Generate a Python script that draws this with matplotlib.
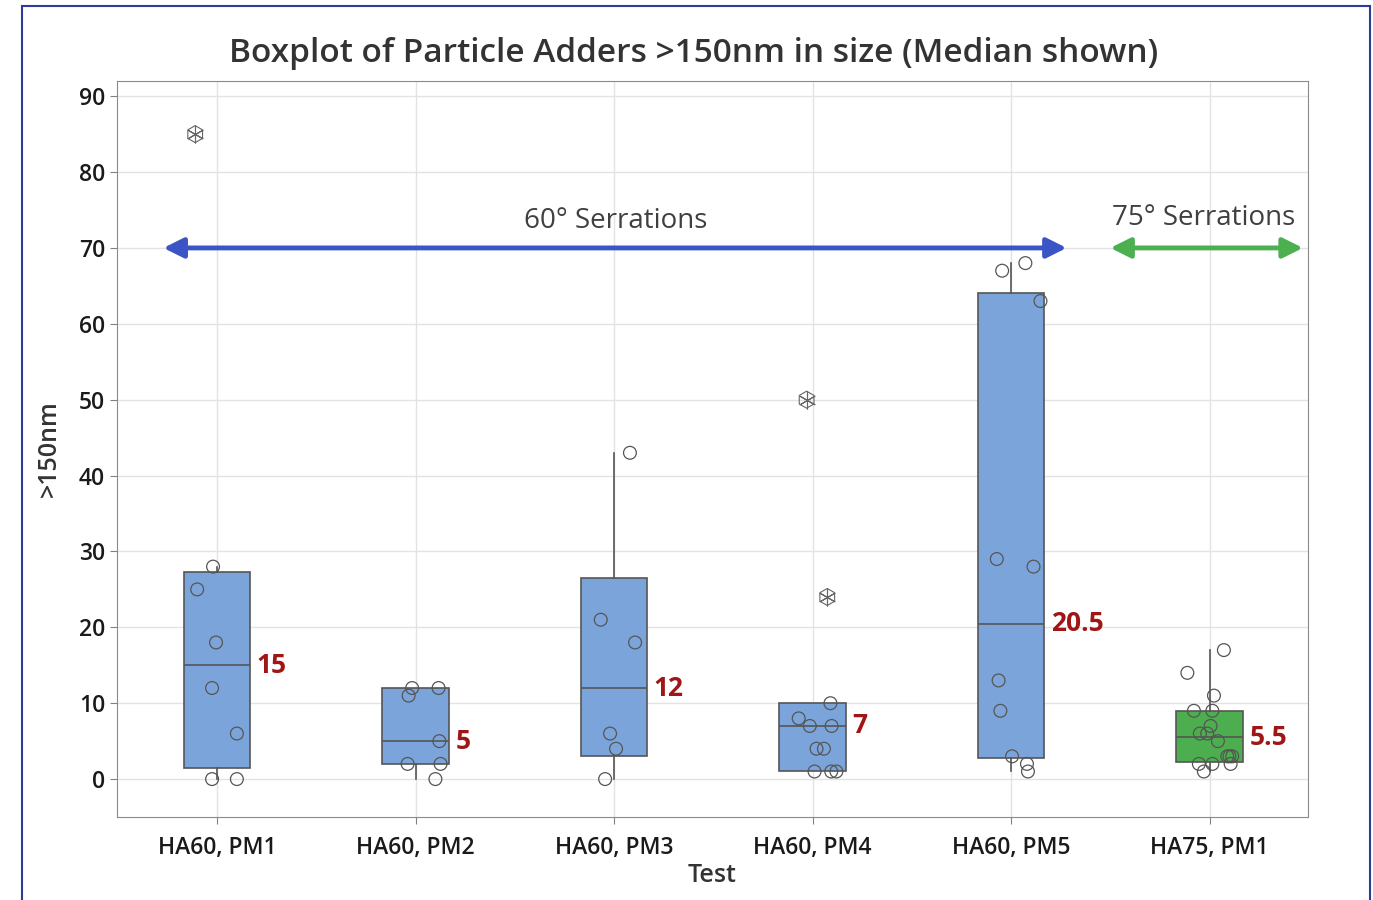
import numpy as np
import matplotlib.pyplot as plt
from matplotlib.patches import Rectangle

plt.rcParams['font.family'] = ['Open Sans', 'Noto Sans', 'DejaVu Sans']

tests = ["HA60, PM1", "HA60, PM2", "HA60, PM3", "HA60, PM4", "HA60, PM5", "HA75, PM1"]

# particle adders per run
pm1 = [0, 0, 6, 12, 18, 25, 28, 85]
pm2 = [0, 2, 2, 5, 11, 12, 12]
pm3 = [0, 4, 6, 18, 21, 43]
pm4 = [1, 1, 1, 4, 4, 7, 7, 8, 10, 24, 50]
pm5 = [1, 2, 3, 9, 13, 28, 29, 63, 67, 68]
ha75 = [1, 2, 2, 2, 3, 3, 3, 5, 6, 6, 7, 9, 9, 11, 14, 17]

# horizontal jitter of the individual points (same order as values)
jit1 = [-0.025, 0.1, 0.1, -0.025, -0.005, -0.1, -0.02, -0.11]
jit2 = [0.1, -0.04, 0.126, 0.12, -0.035, -0.017, 0.116]
jit3 = [-0.045, 0.01, -0.02, 0.106, -0.067, 0.08]
jit4 = [0.01, 0.094, 0.12, 0.02, 0.057, -0.014, 0.096, -0.07, 0.09, 0.074, -0.03]
jit5 = [0.085, 0.08, 0.005, -0.054, -0.063, 0.113, -0.072, 0.148, -0.045, 0.072]
jit6 = [-0.029, -0.054, 0.014, 0.106, 0.089, 0.114, 0.1, 0.042, -0.049, -0.012,
        0.005, -0.079, 0.014, 0.022, -0.112, 0.072]

groups = [pm1, pm2, pm3, pm4, pm5, ha75]
jitters = [jit1, jit2, jit3, jit4, jit5, jit6]
box_colors = ["#7BA5DA"] * 5 + ["#4DAE50"]

fig = plt.figure(figsize=(13.73, 9.0), dpi=100)
ax = fig.add_axes([0.0852, 0.0922, 0.8675, 0.8178])

stats = []
for vals in groups:
    v = np.array(vals, dtype=float)
    q1, med, q3 = np.percentile(v, [25, 50, 75], method="weibull")
    iqr = q3 - q1
    inside = v[(v >= q1 - 1.5 * iqr) & (v <= q3 + 1.5 * iqr)]
    stats.append(dict(q1=q1, med=med, q3=q3, whislo=inside.min(), whishi=inside.max(),
                      fliers=[]))

bp = ax.bxp(stats, positions=range(len(tests)), widths=0.335, patch_artist=True,
            showfliers=False, showcaps=False,
            boxprops=dict(edgecolor="#555555", linewidth=1.2),
            medianprops=dict(color="#555555", linewidth=1.2),
            whiskerprops=dict(color="#555555", linewidth=1.2))
for patch, c in zip(bp["boxes"], box_colors):
    patch.set_facecolor(c)

for i, (vals, jit, st) in enumerate(zip(groups, jitters, stats)):
    v = np.array(vals, dtype=float)
    x = i + np.array(jit)
    out = (v < st["whislo"]) | (v > st["whishi"])
    ax.scatter(x[~out], v[~out], s=85, facecolors="none", edgecolors="#555555",
               linewidths=0.9, zorder=4)
    ax.scatter(x[out], v[out], s=150, marker="h", facecolors="none",
               edgecolors="#666666", linewidths=0.8, zorder=4)
    ax.scatter(x[out], v[out], s=150, marker=(6, 2, 0), color="#666666",
               linewidths=0.8, zorder=4)
    ax.text(i + 0.2, st["med"], f"{st['med']:g}", color="#A01515", fontsize=19,
            fontweight="bold", ha="left", va="center")

# serration arrows
ax.annotate("", xy=(-0.27, 70), xytext=(4.28, 70),
            arrowprops=dict(arrowstyle="<|-|>", color="#3B54C6", lw=3.5,
                            mutation_scale=30, shrinkA=0, shrinkB=0))
ax.text(2.01, 73.6, "60° Serrations", ha="center", va="center", fontsize=20,
        color="#404040")
ax.annotate("", xy=(4.5, 70), xytext=(5.47, 70),
            arrowprops=dict(arrowstyle="<|-|>", color="#4CAF50", lw=3.5,
                            mutation_scale=30, shrinkA=0, shrinkB=0))
ax.text(4.97, 73.9, "75° Serrations", ha="center", va="center", fontsize=20,
        color="#404040")

ax.set_xlim(-0.504, 5.496)
ax.set_ylim(-5, 92)
ax.set_yticks(range(0, 91, 10))
ax.set_xticks(range(len(tests)))
ax.set_xticklabels(tests)
ax.tick_params(labelsize=16.5, colors="#808080", labelcolor="#1A1A1A", length=5)
ax.tick_params(axis="x", pad=9)
for lab in ax.get_xticklabels() + ax.get_yticklabels():
    lab.set_fontweight("semibold")
ax.grid(True, color="#E3E3E3", linewidth=1)
ax.set_axisbelow(True)
for s in ax.spines.values():
    s.set_color("#8A8A8A")

ax.set_xlabel("Test", fontsize=18, color="#333333", labelpad=2, fontweight="semibold")
ax.set_ylabel(">150nm", fontsize=18, color="#333333", labelpad=12, fontweight="semibold")
ax.set_title("Boxplot of Particle Adders >150nm in size (Median shown)", fontsize=24,
             color="#333333", pad=14, fontweight="semibold", x=0.4845)

fig.patches.append(Rectangle((0.016, -0.02), 0.9818, 1.0133, transform=fig.transFigure,
                             fill=False, edgecolor="#2E3C96", linewidth=1.5))

fig.savefig("out.png", dpi=100)
